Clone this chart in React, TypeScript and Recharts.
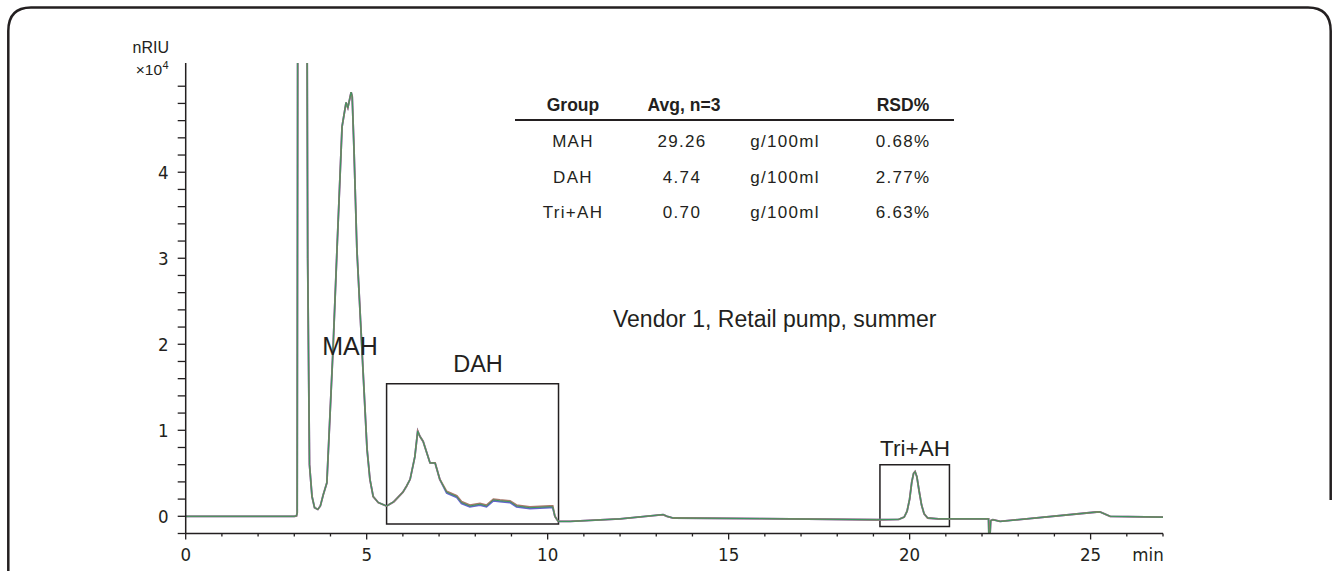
import { LineChart, Line, XAxis, YAxis, ReferenceArea } from "recharts";

// retention time (min) and detector response (nRIU x10^4)
const retention = [
  0, 3.0, 3.06, 3.08, 3.1, 3.34, 3.37, 3.42, 3.49, 3.56, 3.65, 3.72, 3.8, 3.9,
  4.07, 4.18, 4.32, 4.43, 4.48, 4.53, 4.57, 4.6, 4.65, 4.73, 4.87, 5.01, 5.09, 5.18,
  5.32, 5.55, 5.75, 6.0, 6.1, 6.2, 6.33, 6.41, 6.47, 6.56, 6.75, 6.89, 7.02, 7.21,
  7.49, 7.62, 7.85, 8.13, 8.31, 8.5, 8.68, 8.96, 9.14, 9.51, 10.06, 10.14, 10.2, 10.29,
  10.62, 12.0, 13.19, 13.3, 13.47, 15.86, 19.09, 19.7, 19.85, 19.93, 20.0, 20.06, 20.11, 20.15,
  20.2, 20.26, 20.33, 20.4, 20.5, 20.8, 22.13, 22.18, 22.2, 22.24, 22.3, 22.5, 23.23, 25.17,
  25.26, 25.54, 27.0,
];
const run1 = [
  0, 0, 0.005, 0.04, 8, 8, 3.0, 0.6, 0.23, 0.1, 0.08, 0.12, 0.25, 0.39,
  1.94, 3.1, 4.53, 4.81, 4.75, 4.85, 4.93, 4.88, 4.26, 3.1, 1.94, 0.78, 0.43, 0.23,
  0.16, 0.12, 0.17, 0.28, 0.35, 0.43, 0.69, 0.99, 0.93, 0.87, 0.62, 0.62, 0.43, 0.28,
  0.23, 0.16, 0.12, 0.14, 0.12, 0.19, 0.18, 0.17, 0.12, 0.1, 0.11, 0.11, 0.0, -0.06,
  -0.06, -0.03, 0.02, 0.0, -0.02, -0.027, -0.04, -0.035, -0.01, 0.06, 0.2, 0.4, 0.5, 0.52,
  0.46, 0.3, 0.13, 0.03, -0.02, -0.03, -0.03, -0.03, -0.4, -0.05, -0.04, -0.06, -0.03, 0.05,
  0.05, 0.0, -0.01,
];
// runs 2 and 3 only separate visibly in the DAH tail
const dahTimes = [7.21, 7.49, 7.62, 7.85, 8.13, 8.31, 8.5, 8.68, 8.96, 9.14, 9.51, 10.06, 10.14];
const run2Dah = [0.29, 0.24, 0.17, 0.13, 0.15, 0.13, 0.2, 0.19, 0.18, 0.13, 0.11, 0.12, 0.12];
const run3Dah = [0.27, 0.22, 0.15, 0.11, 0.13, 0.11, 0.18, 0.17, 0.16, 0.11, 0.09, 0.1, 0.1];

const xTicks = Array.from({ length: 28 }, (_, i) => i);
const yTicks = Array.from({ length: 27 }, (_, i) => Math.round((i * 0.2 - 0.2) * 10) / 10);

const tableHead = ["Group", "Avg, n=3", "", "RSD%"];
const groups = ["MAH", "DAH", "Tri+AH"];
const averages = ["29.26", "4.74", "0.70"];
const units = ["g/100ml", "g/100ml", "g/100ml"];
const rsd = ["0.68%", "2.77%", "6.63%"];

const ink = "#231f20";
const sans = "'Liberation Sans', Arial, sans-serif";
const narrow = "'Liberation Sans Narrow', 'DejaVu Sans Condensed', sans-serif";

const data = retention.map((t, i) => {
  const k = dahTimes.indexOf(t);
  return {
    t,
    a: run1[i],
    b: k >= 0 ? run2Dah[k] : run1[i],
    c: k >= 0 ? run3Dah[k] : run1[i],
  };
});

const XTick = (props: any) => {
  const { x, y, payload } = props;
  const major = payload.value % 5 === 0;
  return (
    <g>
      <line x1={x} x2={x} y1={y} y2={y + (major ? 6 : 3)} stroke={ink} strokeWidth={1.3} />
      {major && (
        <text x={x} y={y + 27.5} textAnchor="middle" fontFamily={narrow} fontSize={18.5} fill={ink}>
          {payload.value}
        </text>
      )}
    </g>
  );
};

const YTick = (props: any) => {
  const { x, y, payload } = props;
  const v = payload.value;
  const labelled = Number.isInteger(v) && v >= 0 && v <= 4;
  return (
    <g>
      <line x1={x - 8} x2={x} y1={y} y2={y} stroke={ink} strokeWidth={1.3} />
      {labelled && (
        <text x={x - 17} y={y + 6.5} textAnchor="end" fontFamily={narrow} fontSize={18.5} fill={ink}>
          {v}
        </text>
      )}
    </g>
  );
};

const colX = [573, 684, 785, 903];

export default function App() {
  return (
    <div style={{ position: "absolute", left: 0, top: 0, width: 1339, height: 571, background: "#fff" }}>
      <LineChart
        width={1339}
        height={571}
        data={data}
        margin={{ top: 63, right: 176, bottom: 7.5, left: 125.7 }}
      >
        <XAxis
          dataKey="t"
          type="number"
          domain={[0, 27]}
          ticks={xTicks}
          interval={0}
          height={30}
          tickSize={0}
          tickMargin={0}
          tick={<XTick />}
          axisLine={{ stroke: ink, strokeWidth: 1.5 }}
          allowDataOverflow
        />
        <YAxis
          type="number"
          domain={[-0.2, 5.27]}
          ticks={yTicks}
          interval={0}
          width={60}
          tickSize={0}
          tickMargin={0}
          tick={<YTick />}
          axisLine={{ stroke: ink, strokeWidth: 1.5 }}
          allowDataOverflow
        />
        <ReferenceArea x1={5.55} x2={10.3} y1={-0.09} y2={1.54} fill="none" stroke={ink} strokeWidth={1.5} />
        <ReferenceArea x1={19.18} x2={21.1} y1={-0.12} y2={0.6} fill="none" stroke={ink} strokeWidth={1.5} />
        <Line type="linear" dataKey="c" stroke="#6464cc" strokeWidth={1.8} dot={false} isAnimationActive={false} />
        <Line type="linear" dataKey="b" stroke="#a8786c" strokeWidth={1.8} dot={false} isAnimationActive={false} />
        <Line type="linear" dataKey="a" stroke="#3a9660" strokeWidth={1} dot={false} isAnimationActive={false} />
      </LineChart>

      <svg width={1339} height={571} style={{ position: "absolute", left: 0, top: 0, pointerEvents: "none" }}>
        <path
          d="M 8.3 571 L 8.3 31 Q 8.3 7.5 31 7.5 L 1308 7.5 Q 1330.7 7.5 1330.7 31 L 1330.7 500"
          fill="none"
          stroke={ink}
          strokeWidth={2.5}
        />
        <text x={169} y={53} textAnchor="end" fontFamily={sans} fontSize={16} fill={ink}>nRIU</text>
        <text x={162} y={75} textAnchor="end" fontFamily={sans} fontSize={15.5} fill={ink}>×10</text>
        <text x={162.5} y={68.5} fontFamily={sans} fontSize={11} fill={ink}>4</text>

        <text x={350} y={355} textAnchor="middle" fontFamily={sans} fontSize={25} fill={ink}>MAH</text>
        <text x={478} y={372} textAnchor="middle" fontFamily={sans} fontSize={23.5} fill={ink}>DAH</text>
        <text x={915} y={456} textAnchor="middle" fontFamily={sans} fontSize={22.5} fill={ink}>Tri+AH</text>
        <text x={613} y={327} fontFamily={sans} fontSize={23} fill={ink}>Vendor 1, Retail pump, summer</text>
        <text x={1148} y={561} textAnchor="middle" fontFamily={narrow} fontSize={18.5} fill={ink}>min</text>

        {tableHead.map((h, i) => (
          <text key={h + i} x={colX[i]} y={111} textAnchor="middle" fontFamily={sans} fontWeight="bold"
            fontSize={17.5} fill={ink}>{h}</text>
        ))}
        <line x1={515} x2={954} y1={120} y2={120} stroke={ink} strokeWidth={2.2} />
        {groups.map((g, r) => (
          <g key={g} fontFamily={sans} fontSize={17} fill={ink} letterSpacing={1.3} textAnchor="middle">
            <text x={colX[0]} y={147 + r * 35.7}>{g}</text>
            <text x={colX[1] - 2} y={147 + r * 35.7}>{averages[r]}</text>
            <text x={colX[2]} y={147 + r * 35.7}>{units[r]}</text>
            <text x={colX[3]} y={147 + r * 35.7}>{rsd[r]}</text>
          </g>
        ))}
      </svg>
    </div>
  );
}
